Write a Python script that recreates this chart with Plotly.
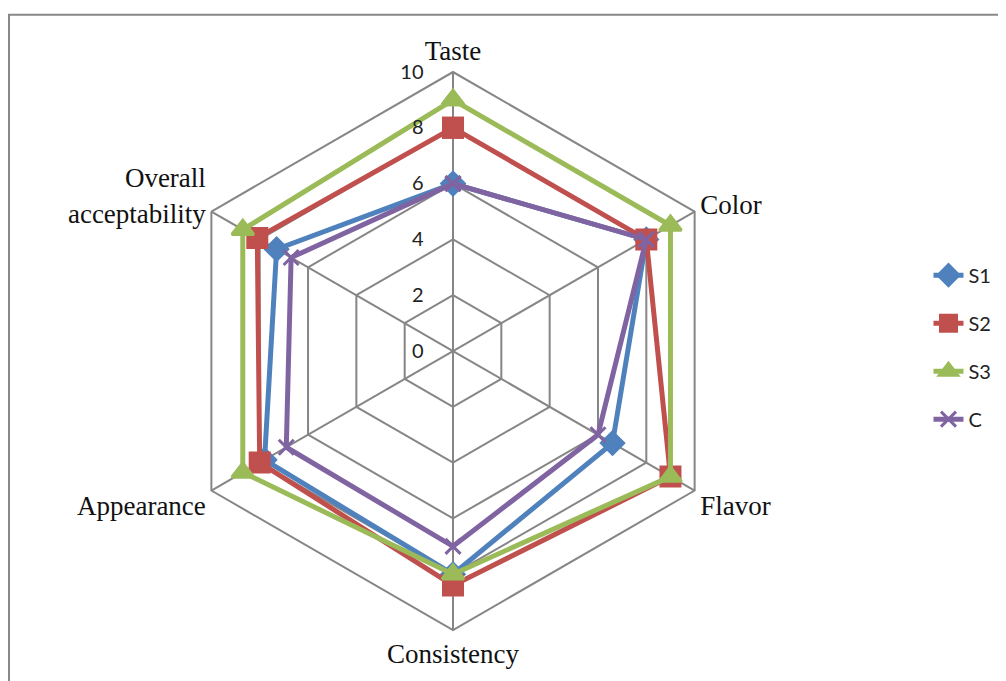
import plotly.graph_objects as go

categories = ["Taste", "Color", "Flavor", "Consistency", "Appearance", "Overall<br>acceptability"]
s1 = [6.0, 8.0, 6.6, 8.0, 7.8, 7.3]
s2 = [8.0, 8.0, 9.0, 8.4, 8.0, 8.1]
s3 = [9.0, 9.0, 9.0, 8.0, 8.7, 8.7]
c = [6.0, 8.0, 6.0, 7.0, 6.9, 6.7]

series = [
    ("S1", s1, "#4F81BD", "diamond", 17),
    ("S2", s2, "#C0504D", "square", 19),
    ("S3", s3, "#9BBB59", "triangle-up", 19),
    ("C", c, "#8064A2", "x-thin", 15),
]

fig = go.Figure()
for i, (name, vals, color, sym, size) in enumerate(series):
    fig.add_trace(go.Scatterpolar(
        r=vals + vals[:1], theta=categories + categories[:1], name=name,
        mode="lines+markers", legendgroup=f"g{i}",
        line=dict(color=color, width=5),
        marker=dict(symbol=sym, size=size, color=color, line=dict(color=color, width=3)),
    ))

fig.update_layout(
    width=1006, height=681, margin=dict(l=0, r=0, t=0, b=0),
    paper_bgcolor="white", plot_bgcolor="white", showlegend=True,
    polar=dict(
        domain=dict(x=[0.165, 0.7197], y=[0.0866, 0.906]),
        gridshape="linear", bgcolor="white",
        radialaxis=dict(range=[0, 10], dtick=2, angle=90, tickangle=90, side="counterclockwise",
                        showline=False, gridcolor="#868686", gridwidth=2,
                        ticks="outside", ticklen=22, tickcolor="rgba(0,0,0,0)",
                        tickfont=dict(family="Lato", size=20, color="#222")),
        angularaxis=dict(direction="clockwise", rotation=90, gridcolor="#868686", gridwidth=2,
                         linecolor="#868686", linewidth=2, ticks="",
                         tickfont=dict(family="Liberation Serif", size=27, color="#111")),
    ),
    legend=dict(x=0.915, y=0.502, xanchor="left", yanchor="middle", traceorder="grouped",
                tracegroupgap=19, font=dict(family="Lato", size=20, color="#222")),
    shapes=[dict(type="rect", xref="paper", yref="paper", x0=0.001, x1=1.05, y0=-0.05, y1=0.99,
                 line=dict(color="#888888", width=2))],
)

fig.write_html("out.html")
